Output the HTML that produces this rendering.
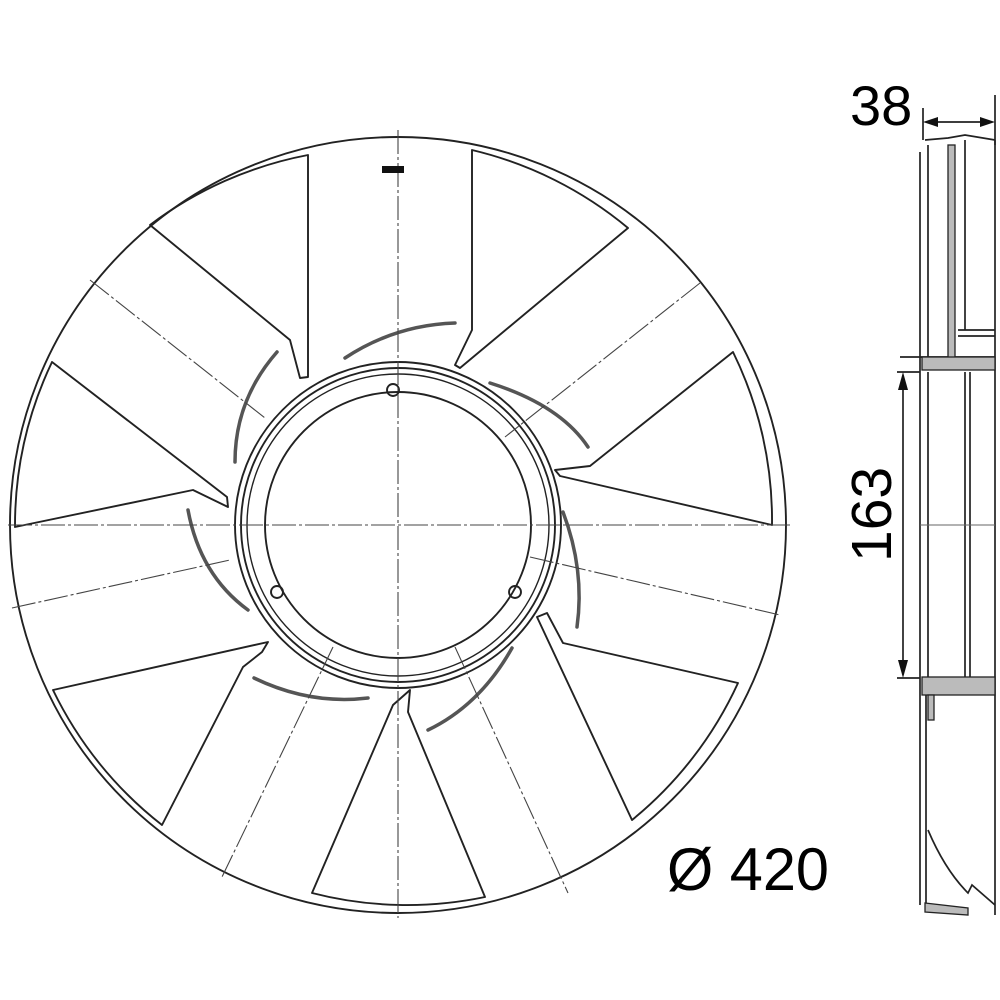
<!DOCTYPE html>
<html><head><meta charset="utf-8"><style>
html,body{margin:0;padding:0;background:#fff;}
svg{display:block;}
text{font-family:"Liberation Sans",sans-serif;fill:#000;}
</style></head><body>
<svg width="1000" height="1000" viewBox="0 0 1000 1000" xmlns="http://www.w3.org/2000/svg">
<g fill="none" stroke="#222" stroke-width="1.9" stroke-linejoin="round">
  <circle cx="398" cy="525" r="388"/>
  <path d="M308,155 L308,377 L300,378 L290,340 L150,225 A381,381 0 0 1 308,155 Z"/>
  <path d="M628,228 L460,368 L455,365 L472,330 L472,150 A381,381 0 0 1 628,228 Z"/>
  <path d="M772,525 L560,476 L555,470 L590,466 L733,352 A381,381 0 0 1 772,525 Z"/>
  <path d="M632,820 L537,617 L547,613 L563,643 L738,683 A381,381 0 0 1 632,820 Z"/>
  <path d="M312,893 L393,705 L410,690 L408,712 L485,897 A381,381 0 0 1 312,893 Z"/>
  <path d="M53,690 L268,642 L262,652 L243,667 L162,825 A381,381 0 0 1 53,690 Z"/>
  <path d="M52,362 L227,497 L228,507 L193,490 L15,527 A381,381 0 0 1 52,362 Z"/>
  <circle cx="398" cy="525" r="163"/>
  <circle cx="398" cy="525" r="157"/>
  <circle cx="398" cy="525" r="151" stroke-width="1.4"/>
  <circle cx="398" cy="525" r="133"/>
  <circle cx="393" cy="390" r="6"/>
  <circle cx="277" cy="592" r="6"/>
  <circle cx="515" cy="592" r="6"/>
</g>
<g fill="none" stroke="#555" stroke-width="3.5" stroke-linecap="round">
  <path d="M345,358 Q395,325 455,323"/>
  <path d="M490,383 Q560,405 588,447"/>
  <path d="M563,512 Q585,570 577,627"/>
  <path d="M512,648 Q480,705 428,730"/>
  <path d="M254,678 Q310,705 368,698"/>
  <path d="M188,510 Q200,575 248,610"/>
  <path d="M277,352 Q235,400 235,462"/>
</g>
<g stroke="#444" stroke-width="1.1" fill="none" stroke-dasharray="24,3,3,3">
  <line x1="8" y1="525" x2="790" y2="525"/>
  <line x1="398" y1="130" x2="398" y2="918"/>
  <line x1="90" y1="280" x2="265" y2="418"/>
  <line x1="700" y1="283" x2="505" y2="437"/>
  <line x1="530" y1="557" x2="780" y2="615"/>
  <line x1="455" y1="647" x2="568" y2="893"/>
  <line x1="333" y1="647" x2="222" y2="877"/>
  <line x1="12" y1="608" x2="230" y2="560"/>
</g>
<rect x="382" y="166" width="22" height="7" fill="#111"/>

<g fill="none" stroke="#222" stroke-width="1.7">
  <line x1="923" y1="108" x2="923" y2="140"/>
  <line x1="995" y1="95" x2="995" y2="145"/>
  <line x1="932" y1="122" x2="986" y2="122"/>
  <path d="M925,140 L948,138 L965,135 L995,140"/>
  <line x1="920" y1="152" x2="920" y2="905"/>
  <line x1="928" y1="145" x2="928" y2="357"/>
  <line x1="965" y1="140" x2="965" y2="330"/>
  <line x1="995" y1="140" x2="995" y2="915"/>
  <line x1="958" y1="330" x2="995" y2="330"/>
  <line x1="958" y1="336" x2="995" y2="336"/>
  <line x1="900" y1="357" x2="995" y2="357"/>
  <line x1="897" y1="372" x2="920" y2="372"/>
  <line x1="903" y1="385" x2="903" y2="665"/>
  <line x1="897" y1="678" x2="920" y2="678"/>
  <line x1="928" y1="372" x2="928" y2="677"/>
  <line x1="965" y1="372" x2="965" y2="677"/>
  <line x1="970" y1="372" x2="970" y2="677"/>
  <line x1="926" y1="695" x2="926" y2="905"/>
  <path d="M928,830 Q945,870 968,893 L972,885 L995,905"/>
  <line x1="920" y1="525" x2="995" y2="525" stroke-width="1" stroke="#666"/>
</g>
<g fill="#bbb" stroke="#222" stroke-width="1.3">
  <rect x="948" y="145" width="7" height="215"/>
  <rect x="922" y="357" width="73" height="13"/>
  <rect x="922" y="677" width="73" height="18"/>
  <rect x="928" y="695" width="6" height="25"/>
  <path d="M925,903 L968,908 L968,915 L925,912 Z"/>
</g>
<g fill="#111">
  <polygon points="923,122 938,117 938,127"/>
  <polygon points="995,122 980,117 980,127"/>
  <polygon points="903,372 898,390 908,390"/>
  <polygon points="903,678 898,660 908,660"/>
</g>
<text x="850" y="125" font-size="56">38</text>
<text x="0" y="0" font-size="57" transform="translate(891,562) rotate(-90)">163</text>
<text x="667" y="890" font-size="60" textLength="162" lengthAdjust="spacingAndGlyphs">Ø 420</text>
</svg>
</body></html>
